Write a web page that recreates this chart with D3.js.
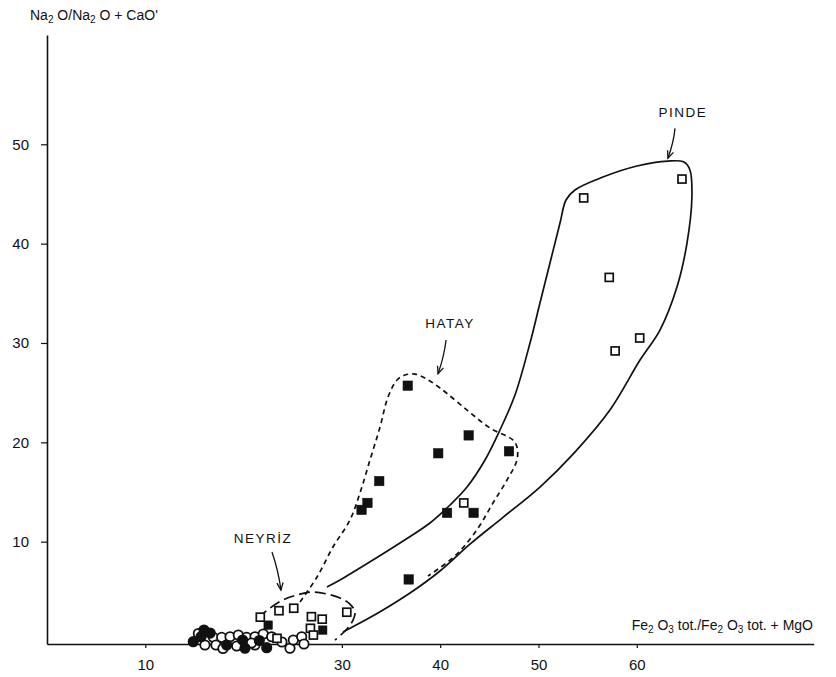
<!DOCTYPE html>
<html>
<head>
<meta charset="utf-8">
<script src="https://cdn.jsdelivr.net/npm/d3@7"></script>
<style>
  body { margin: 0; background: #fff; }
  svg { font-family: "Liberation Sans", Arial, sans-serif; }
</style>
</head>
<body>
<script>
let width = 836;
let height = 677;

// axis ticks (20 is not labelled in the original)
const xTicks = [10, 30, 40, 50, 60];
const yTicks = [10, 20, 30, 40, 50];

// Pinde (open squares)
const pindeX = [64.6, 54.6, 57.2, 60.3, 57.8];
const pindeY = [46.5, 44.6, 36.6, 30.5, 29.2];

// Hatay (filled squares)
const hatayX = [36.7, 42.9, 39.8, 47.0, 33.8, 32.6, 32.0, 40.7, 43.4, 36.8];
const hatayY = [25.7, 20.7, 18.9, 19.1, 16.1, 13.9, 13.2, 12.9, 12.9, 6.2];
const hatayOpenX = [42.4];
const hatayOpenY = [13.9];

// Neyriz squares
const neyrizSqX = [21.7, 23.6, 25.1, 26.9, 28.0, 26.8, 27.1, 30.5, 23.4];
const neyrizSqY = [2.4, 3.05, 3.3, 2.45, 2.2, 1.28, 0.6, 2.9, 0.27];
const neyrizSqFillX = [22.5, 28.05];
const neyrizSqFillY = [1.6, 1.1];

// Neyriz circles
const circOpenX = [16.07, 16.92, 17.19, 17.77, 18.62, 19.30, 19.46, 20.31, 21.16, 21.16, 22.0, 22.86, 24.72, 25.06, 25.91, 26.14, 17.9, 20.8, 23.9, 15.4];
const circOpenY = [-0.40, 0.37, -0.40, 0.37, 0.43, -0.50, 0.60, 0.37, -0.40, 0.43, 0.70, 0.43, -0.73, 0.10, 0.43, -0.30, -0.75, -0.2, -0.1, 0.75];
const circFillX = [15.97, 14.88, 15.67, 18.28, 20.14, 22.35, 19.9, 16.6, 21.6];
const circFillY = [1.11, -0.07, 0.43, -0.40, -0.73, -0.67, 0.1, 0.8, 0.05];

// field outlines
const pindeLineX = [28.48, 29.81, 33.16, 35.91, 38.96, 41.00, 42.73, 44.56, 46.08, 47.61, 49.14, 50.15, 51.17, 52.19, 52.80, 53.71, 56.56, 60.02, 63.17, 64.80, 65.41, 65.61, 65.11, 64.09, 62.36, 60.33, 57.27, 53.71, 50.15, 46.39, 43.03, 39.98, 36.93, 33.67, 30.11];
const pindeLineY = [5.44, 6.14, 8.15, 9.86, 11.88, 13.69, 15.50, 18.22, 21.24, 24.76, 30.00, 34.02, 38.05, 42.07, 44.39, 45.40, 46.70, 47.81, 48.31, 48.21, 47.41, 44.69, 40.06, 35.63, 31.30, 28.28, 23.25, 19.02, 15.50, 12.45, 9.75, 7.05, 4.83, 2.82, 0.91];

const hatayLineX = [25.74, 27.47, 29.09, 30.82, 31.84, 32.86, 33.88, 34.69, 35.61, 36.42, 37.44, 38.45, 39.98, 42.73, 45.07, 47.41, 47.81, 47.81, 46.80, 45.37, 43.85, 41.61, 38.76];
const hatayLineY = [3.93, 6.44, 9.46, 12.18, 14.90, 18.22, 21.54, 24.56, 26.27, 26.77, 26.87, 26.47, 25.47, 23.25, 21.44, 20.23, 19.53, 18.22, 16.21, 13.89, 11.37, 8.66, 6.54];

const neyrizLineX = [21.46, 22.69, 24.01, 25.43, 26.96, 28.48, 29.81, 30.82, 31.33, 31.03, 30.32, 29.30];
const neyrizLineY = [2.32, 3.32, 4.13, 4.63, 4.93, 4.73, 4.33, 3.72, 2.92, 1.91, 1.01, 0.10];

// labels and their arrows (data units)
const labelNames = ["PINDE", "HATAY", "NEYRİZ"];
const labelX = [64.7, 41.0, 21.97];
const labelY = [52.74, 31.5, 9.86];
const arrowFromX = [63.89, 40.6, 22.89];
const arrowFromY = [51.6, 30.3, 8.96];
const arrowToX = [63.17, 39.78, 23.80];
const arrowToY = [48.6, 26.9, 5.13];

const x = d3.scaleLinear().domain([0, 78]).range([47, 813.7]);
const y = d3.scaleLinear().domain([-0.3, 61]).range([644, 35]);

const svg = d3.select("body")
  .append("svg")
  .attr("width", width)
  .attr("height", height)
  .attr("viewBox", [0, 0, width, height]);

const zip = (xs, ys) => xs.map((v, i) => [v, ys[i]]);

// outlines
const line = d3.line()
  .x(d => x(d[0]))
  .y(d => y(d[1]))
  .curve(d3.curveCatmullRom.alpha(0.5));

svg.append("path")
  .attr("d", line(zip(pindeLineX, pindeLineY)))
  .attr("fill", "none")
  .attr("stroke", "#111")
  .attr("stroke-width", 1.7);

svg.append("path")
  .attr("d", line(zip(hatayLineX, hatayLineY)))
  .attr("fill", "none")
  .attr("stroke", "#111")
  .attr("stroke-width", 1.7)
  .attr("stroke-dasharray", "5,4");

svg.append("path")
  .attr("d", line(zip(neyrizLineX, neyrizLineY)))
  .attr("fill", "none")
  .attr("stroke", "#111")
  .attr("stroke-width", 1.7)
  .attr("stroke-dasharray", "11,5");

// axes
const xAxis = svg.append("g")
  .attr("transform", `translate(0,${y.range()[0]})`)
  .call(d3.axisBottom(x).tickValues(xTicks).tickSize(4).tickSizeOuter(0).tickPadding(11));

const yAxis = svg.append("g")
  .attr("transform", `translate(${x.range()[0]},0)`)
  .call(d3.axisLeft(y).tickValues(yTicks).tickSize(6).tickSizeOuter(0).tickPadding(12));

[xAxis, yAxis].forEach(g => {
  g.attr("font-family", null).attr("font-size", null);
  g.select(".domain").attr("stroke", "#111").attr("stroke-width", 1.6);
  g.selectAll(".tick line").attr("stroke", "#111").attr("stroke-width", 1.2);
  g.selectAll(".tick text").attr("fill", "#111").style("font-size", "15px");
});

// axis titles
const yTitle = svg.append("text")
  .attr("x", 30)
  .attr("y", 20)
  .attr("fill", "#111")
  .style("font-size", "14px");
yTitle.append("tspan").text("Na");
yTitle.append("tspan").attr("dy", 3).style("font-size", "10px").text("2");
yTitle.append("tspan").attr("dy", -3).text(" O/Na");
yTitle.append("tspan").attr("dy", 3).style("font-size", "10px").text("2");
yTitle.append("tspan").attr("dy", -3).text(" O + CaO'");

const xTitle = svg.append("text")
  .attr("x", 813)
  .attr("y", 630)
  .attr("text-anchor", "end")
  .attr("fill", "#111")
  .style("font-size", "14px");
xTitle.append("tspan").text("Fe");
xTitle.append("tspan").attr("dy", 3).style("font-size", "10px").text("2");
xTitle.append("tspan").attr("dy", -3).text(" O");
xTitle.append("tspan").attr("dy", 3).style("font-size", "10px").text("3");
xTitle.append("tspan").attr("dy", -3).text(" tot./Fe");
xTitle.append("tspan").attr("dy", 3).style("font-size", "10px").text("2");
xTitle.append("tspan").attr("dy", -3).text(" O");
xTitle.append("tspan").attr("dy", 3).style("font-size", "10px").text("3");
xTitle.append("tspan").attr("dy", -3).text(" tot. + MgO");

// symbols
function squares(xs, ys, size, filled) {
  svg.append("g")
    .selectAll("rect")
    .data(zip(xs, ys))
    .join("rect")
    .attr("x", d => x(d[0]) - size / 2)
    .attr("y", d => y(d[1]) - size / 2)
    .attr("width", size)
    .attr("height", size)
    .attr("fill", filled ? "#111" : "#fff")
    .attr("stroke", "#111")
    .attr("stroke-width", filled ? 0.5 : 1.7);
}

function circles(xs, ys, filled) {
  svg.append("g")
    .selectAll("circle")
    .data(zip(xs, ys))
    .join("circle")
    .attr("cx", d => x(d[0]))
    .attr("cy", d => y(d[1]))
    .attr("r", 4.7)
    .attr("fill", filled ? "#111" : "#fff")
    .attr("stroke", "#111")
    .attr("stroke-width", 1.8);
}

circles(circOpenX, circOpenY, false);
circles(circFillX, circFillY, true);
squares(pindeX, pindeY, 8, false);
squares(hatayX, hatayY, 9.5, true);
squares(hatayOpenX, hatayOpenY, 8, false);
squares(neyrizSqX, neyrizSqY, 8, false);
squares(neyrizSqFillX, neyrizSqFillY, 8.5, true);

// labels with arrows
labelNames.forEach((name, i) => {
  svg.append("text")
    .attr("x", x(labelX[i]))
    .attr("y", y(labelY[i]))
    .attr("text-anchor", "middle")
    .attr("fill", "#111")
    .style("font-size", "13.5px")
    .style("letter-spacing", "1.5px")
    .text(name);

  const x0 = x(arrowFromX[i]), y0 = y(arrowFromY[i]);
  const x1 = x(arrowToX[i]), y1 = y(arrowToY[i]);
  const mx = (x0 + x1) / 2 + 2, my = (y0 + y1) / 2;
  svg.append("path")
    .attr("d", `M${x0},${y0}Q${mx},${my} ${x1},${y1}`)
    .attr("fill", "none")
    .attr("stroke", "#111")
    .attr("stroke-width", 1.3);

  const ang = Math.atan2(y1 - my, x1 - mx);
  const len = 8, spread = 0.4;
  const a1 = [x1 - len * Math.cos(ang - spread), y1 - len * Math.sin(ang - spread)];
  const a2 = [x1 - len * Math.cos(ang + spread), y1 - len * Math.sin(ang + spread)];
  svg.append("path")
    .attr("d", `M${a1[0]},${a1[1]}L${x1},${y1}L${a2[0]},${a2[1]}`)
    .attr("fill", "none")
    .attr("stroke", "#111")
    .attr("stroke-width", 1.3);
});
</script>
</body>
</html>
